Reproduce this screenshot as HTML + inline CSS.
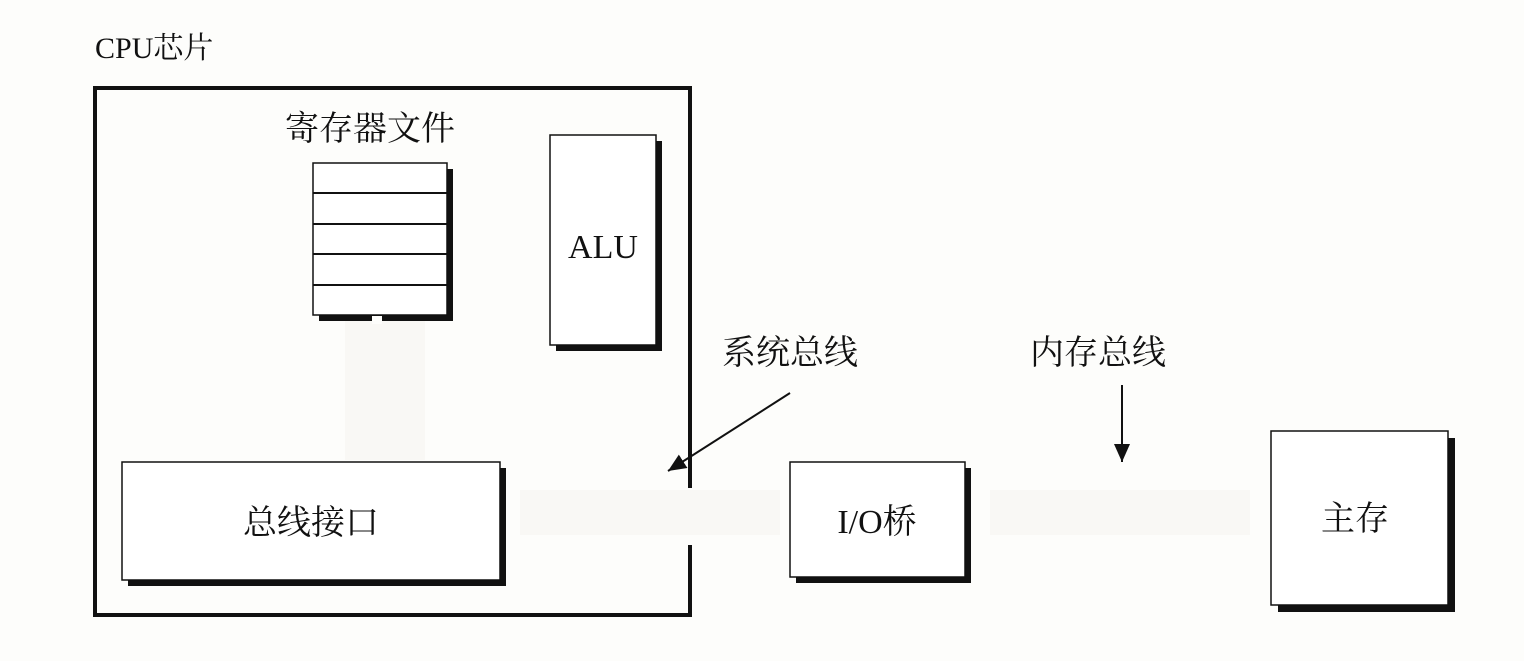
<!DOCTYPE html>
<html><head><meta charset="utf-8"><style>
body{margin:0;width:1524px;height:656px;background:#fdfdfb;overflow:hidden;}
</style></head><body>
<svg width="1524" height="656" viewBox="0 0 1524 656" xmlns="http://www.w3.org/2000/svg" font-family="'Liberation Serif','Noto Serif CJK SC',serif" fill="#111">
<defs>
<marker id="ah2" markerWidth="20" markerHeight="20" refX="18" refY="8" orient="auto" markerUnits="userSpaceOnUse"><path d="M0,0 L18,8 L0,16 z" fill="#111"/></marker></defs>
<g fill="#f9f8f5">
<rect x="520" y="490" width="260" height="45"/>
<rect x="990" y="490" width="260" height="45"/>
<rect x="345" y="320" width="80" height="140"/>
</g>
<text x="95" y="58" font-size="30">CPU芯片</text>
<path d="M690,488 V88 H95 V615 H690 V545" fill="none" stroke="#111" stroke-width="4"/>
<text x="285" y="140" font-size="34">寄存器文件</text>
<rect x="319" y="169" width="134" height="152" fill="#111"/>
<rect x="313" y="163" width="134" height="152" fill="#fff" stroke="#111" stroke-width="1.5"/>
<g stroke="#111" stroke-width="2"><line x1="313" y1="193" x2="447" y2="193"/><line x1="313" y1="224" x2="447" y2="224"/><line x1="313" y1="254" x2="447" y2="254"/><line x1="313" y1="285" x2="447" y2="285"/></g>
<rect x="372" y="316" width="10" height="8" fill="#fdfdfb"/>
<rect x="556" y="141" width="106" height="210" fill="#111"/>
<rect x="550" y="135" width="106" height="210" fill="#fff" stroke="#111" stroke-width="1.5"/>
<text x="603" y="258" font-size="34" text-anchor="middle">ALU</text>
<rect x="128" y="468" width="378" height="118" fill="#111"/>
<rect x="122" y="462" width="378" height="118" fill="#fff" stroke="#111" stroke-width="1.5"/>
<text x="311" y="534" font-size="34" text-anchor="middle">总线接口</text>
<text x="722" y="364" font-size="34">系统总线</text>
<text x="1030" y="364" font-size="34">内存总线</text>
<line x1="790" y1="393" x2="668" y2="471" stroke="#111" stroke-width="2" marker-end="url(#ah2)"/>
<line x1="1122" y1="385" x2="1122" y2="462" stroke="#111" stroke-width="2" marker-end="url(#ah2)"/>
<rect x="796" y="468" width="175" height="115" fill="#111"/>
<rect x="790" y="462" width="175" height="115" fill="#fff" stroke="#111" stroke-width="1.5"/>
<text x="877" y="533" font-size="34" text-anchor="middle">I/O桥</text>
<rect x="1278" y="438" width="177" height="174" fill="#111"/>
<rect x="1271" y="431" width="177" height="174" fill="#fff" stroke="#111" stroke-width="1.5"/>
<text x="1355" y="530" font-size="34" text-anchor="middle">主存</text>
</svg>
</body></html>
